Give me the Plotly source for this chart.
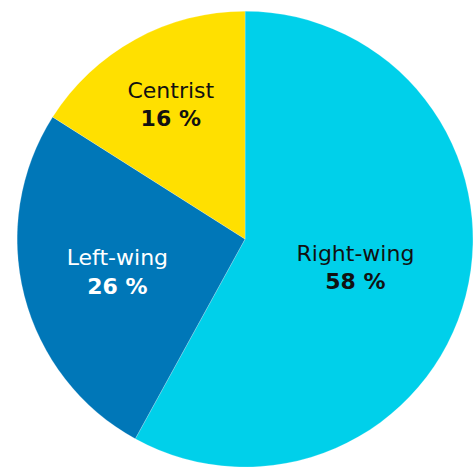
import plotly.graph_objects as go

labels = ["Right-wing", "Left-wing", "Centrist"]
values = [58, 26, 16]
colors = ["#00D0EA", "#0077B8", "#FFE000"]
text_colors = ["#111111", "#FFFFFF", "#111111"]

pct_text = [f"{v} %" for v in values]

font_family = "DejaVu Sans, Verdana, sans-serif"

fig = go.Figure(go.Pie(
    labels=labels,
    values=values,
    customdata=pct_text,
    texttemplate="%{label}<br><b>%{customdata}</b>",
    textposition="inside",
    insidetextorientation="horizontal",
    sort=False,
    direction="clockwise",
    rotation=0,
    marker=dict(colors=colors, line=dict(color="rgba(255,255,255,0.4)", width=0.5)),
    textfont=dict(family=font_family, size=22, color=text_colors),
    insidetextfont=dict(family=font_family, size=22, color=text_colors),
    hoverinfo="label+percent",
    domain=dict(x=[0.034, 1.0], y=[0.0, 0.976]),
    showlegend=False,
))

fig.update_layout(
    width=474,
    height=467,
    margin=dict(l=0, r=0, t=0, b=0),
    paper_bgcolor="white",
    plot_bgcolor="white",
    uniformtext=dict(minsize=22, mode="show"),
)

fig.write_html("out.html")
